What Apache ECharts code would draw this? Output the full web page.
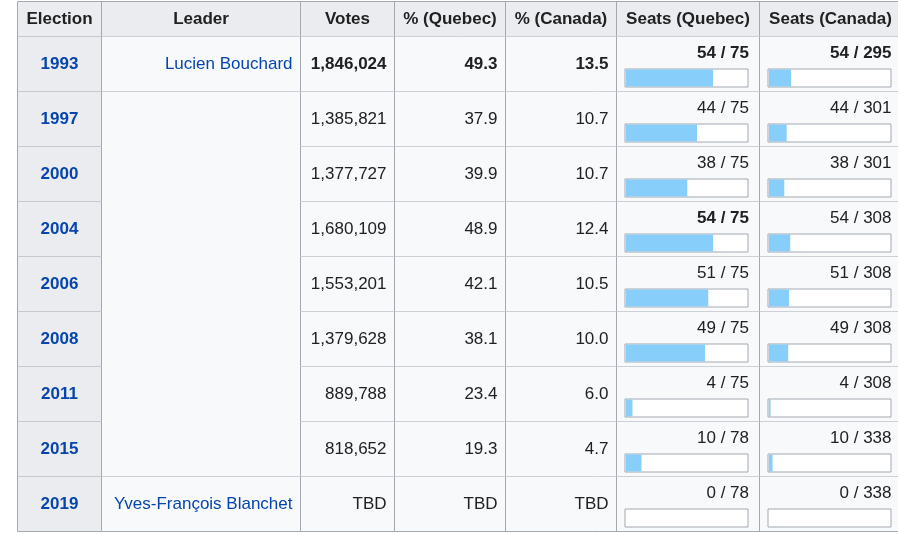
<!DOCTYPE html>
<html>
<head>
<meta charset="utf-8">
<script src="https://cdn.jsdelivr.net/npm/echarts@6/dist/echarts.min.js"></script>
<style>
html, body { margin: 0; padding: 0; background: #fff; }
#main { width: 898px; height: 534px; }
</style>
</head>
<body>
<div id="main"></div>
<script>
// table data
var headers = ['Election', 'Leader', 'Votes', '% (Quebec)', '% (Canada)', 'Seats (Quebec)', 'Seats (Canada)'];
var years = ['1993', '1997', '2000', '2004', '2006', '2008', '2011', '2015', '2019'];
var leaders = ['Lucien Bouchard', 'Gilles Duceppe', 'Yves-François Blanchet'];
var leaderRows = [1, 7, 1]; // rowspan of each leader
var votes = ['1,846,024', '1,385,821', '1,377,727', '1,680,109', '1,553,201', '1,379,628', '889,788', '818,652', 'TBD'];
var pctQuebec = ['49.3', '37.9', '39.9', '48.9', '42.1', '38.1', '23.4', '19.3', 'TBD'];
var pctCanada = ['13.5', '10.7', '10.7', '12.4', '10.5', '10.0', '6.0', '4.7', 'TBD'];
var seatsQuebec = [54, 44, 38, 54, 51, 49, 4, 10, 0];
var totalQuebec = [75, 75, 75, 75, 75, 75, 75, 78, 78];
var seatsCanada = [54, 44, 38, 54, 51, 49, 4, 10, 0];
var totalCanada = [295, 301, 301, 308, 308, 308, 308, 338, 338];
var boldResult = [1, 0, 0, 0, 0, 0, 0, 0, 0];
var boldSeatsQuebec = [1, 0, 0, 1, 0, 0, 0, 0, 0];

// layout
var colLines = [17.5, 101.5, 300.5, 394.5, 505.5, 616.5, 759.5, 901.5];
var borderColor = '#a2a9b1';
var textColor = '#202122';
var linkColor = '#0645ad';
var FONT = '"Liberation Sans", Arial, sans-serif';
var regular = '17px ' + FONT;
var bold = 'bold 17px ' + FONT;

// which leader block a row belongs to
var leaderOf = [];
var leaderStart = [];
leaderRows.forEach(function (n, k) {
    for (var j = 0; j < n; j++) {
        leaderOf.push(k);
        leaderStart.push(j === 0);
    }
});

function hline(x1, x2, y) {
    return { type: 'line', shape: { x1: x1, y1: y, x2: x2, y2: y }, style: { stroke: borderColor, lineWidth: 1 } };
}
function vline(x, y1, y2) {
    return { type: 'line', shape: { x1: x, y1: y1, x2: x, y2: y2 }, style: { stroke: borderColor, lineWidth: 1 } };
}
function txt(s, x, y, align, font, color) {
    return {
        type: 'text',
        style: { text: s, x: x, y: y, textAlign: align, textVerticalAlign: 'middle', font: font, fill: color }
    };
}

function renderRow(params, api) {
    var i = params.dataIndex;
    var c = api.coord([0, i]);
    var h = api.size([0, 1])[1];
    var top = c[1] - h / 2;
    var mid = c[1];
    var kids = [];

    // header, drawn once above the first row
    if (i === 0) {
        kids.push({ type: 'rect', shape: { x: colLines[0], y: 1.5, width: colLines[7] - colLines[0], height: top - 2 }, style: { fill: '#eaecf0' } });
        kids.push(hline(colLines[0], colLines[7], 1.5));
        for (var k = 0; k < headers.length; k++) {
            kids.push(vline(colLines[k], 1.5, top - 0.5));
            kids.push(txt(headers[k], (colLines[k] + colLines[k + 1]) / 2, (top + 1) / 2, 'center', bold, textColor));
        }
        kids.push(vline(colLines[7], 1.5, top - 0.5));
        kids.push(hline(colLines[0], colLines[7], top - 0.5));
    }

    // cell fills
    kids.push({ type: 'rect', shape: { x: colLines[0], y: top - 0.5, width: colLines[1] - colLines[0], height: h }, style: { fill: '#eaecf0' } });
    kids.push({ type: 'rect', shape: { x: colLines[1], y: top - 0.5, width: colLines[7] - colLines[1], height: h }, style: { fill: '#f8f9fa' } });

    var b = top + h - 0.5;
    // bottom borders (leader column only at the end of its span)
    var li = leaderOf[i];
    var lastOfSpan = (i === years.length - 1) || leaderOf[i + 1] !== li;
    kids.push(hline(colLines[0], colLines[1], b));
    if (lastOfSpan) kids.push(hline(colLines[1], colLines[2], b));
    kids.push(hline(colLines[2], colLines[7], b));
    for (var m = 0; m < colLines.length; m++) {
        kids.push(vline(colLines[m], top - 0.5, b));
    }

    // texts
    kids.push(txt(years[i], (colLines[0] + colLines[1]) / 2, mid, 'center', bold, linkColor));
    if (leaderStart[i]) {
        var spanMid = top + h * leaderRows[li] / 2;
        kids.push(txt(leaders[li], colLines[2] - 8, spanMid, 'right', regular, linkColor));
    }
    var f = boldResult[i] ? bold : regular;
    kids.push(txt(votes[i], colLines[3] - 8, mid, 'right', f, textColor));
    kids.push(txt(pctQuebec[i], colLines[4] - 8, mid, 'right', f, textColor));
    kids.push(txt(pctCanada[i], colLines[5] - 8, mid, 'right', f, textColor));
    kids.push(txt(seatsQuebec[i] + ' / ' + totalQuebec[i], 749, top + 16.5, 'right',
        boldSeatsQuebec[i] ? bold : regular, textColor));
    kids.push(txt(seatsCanada[i] + ' / ' + totalCanada[i], 891.5, top + 16.5, 'right', f, textColor));

    return { type: 'group', children: kids };
}

var shareQuebec = seatsQuebec.map(function (s, i) { return s / totalQuebec[i]; });
var shareCanada = seatsCanada.map(function (s, i) { return s / totalCanada[i]; });
var full = years.map(function () { return 1; });

function catAxis(gi) {
    return { type: 'category', data: years, inverse: true, gridIndex: gi, show: false };
}
function valAxis(gi) {
    return { type: 'value', min: 0, max: 1, gridIndex: gi, show: false };
}

var mcharts = echarts.init(document.getElementById('main'), null, { renderer: 'canvas' });

var option = {
    backgroundColor: '#fff',
    animation: false,
    grid: [
        { left: 17, right: 0, top: 37, height: 495, outerBoundsMode: 'none' },          // table
        { left: 624.5, width: 124, top: 50.5, height: 495, outerBoundsMode: 'none' },    // quebec box
        { left: 626, width: 121, top: 50.5, height: 495, outerBoundsMode: 'none' },      // quebec fill
        { left: 767.5, width: 124, top: 50.5, height: 495, outerBoundsMode: 'none' },    // canada box
        { left: 769, width: 121, top: 50.5, height: 495, outerBoundsMode: 'none' }       // canada fill
    ],
    xAxis: [valAxis(0), valAxis(1), valAxis(2), valAxis(3), valAxis(4)],
    yAxis: [catAxis(0), catAxis(1), catAxis(2), catAxis(3), catAxis(4)],
    series: [
        {
            type: 'custom',
            xAxisIndex: 0,
            yAxisIndex: 0,
            z: 1,
            renderItem: renderRow,
            data: years.map(function (y, i) { return [0, i]; }),
            encode: { x: 0, y: 1 }
        },
        {
            type: 'bar', xAxisIndex: 1, yAxisIndex: 1, z: 2, barWidth: 19, data: full, silent: true,
            itemStyle: { color: '#fff', borderColor: borderColor, borderWidth: 1 }
        },
        {
            type: 'bar', xAxisIndex: 2, yAxisIndex: 2, z: 3, barWidth: 17, data: shareQuebec,
            itemStyle: { color: '#87cefa' }
        },
        {
            type: 'bar', xAxisIndex: 3, yAxisIndex: 3, z: 2, barWidth: 19, data: full, silent: true,
            itemStyle: { color: '#fff', borderColor: borderColor, borderWidth: 1 }
        },
        {
            type: 'bar', xAxisIndex: 4, yAxisIndex: 4, z: 3, barWidth: 17, data: shareCanada,
            itemStyle: { color: '#87cefa' }
        }
    ]
};

mcharts.setOption(option, true);
</script>
</body>
</html>
